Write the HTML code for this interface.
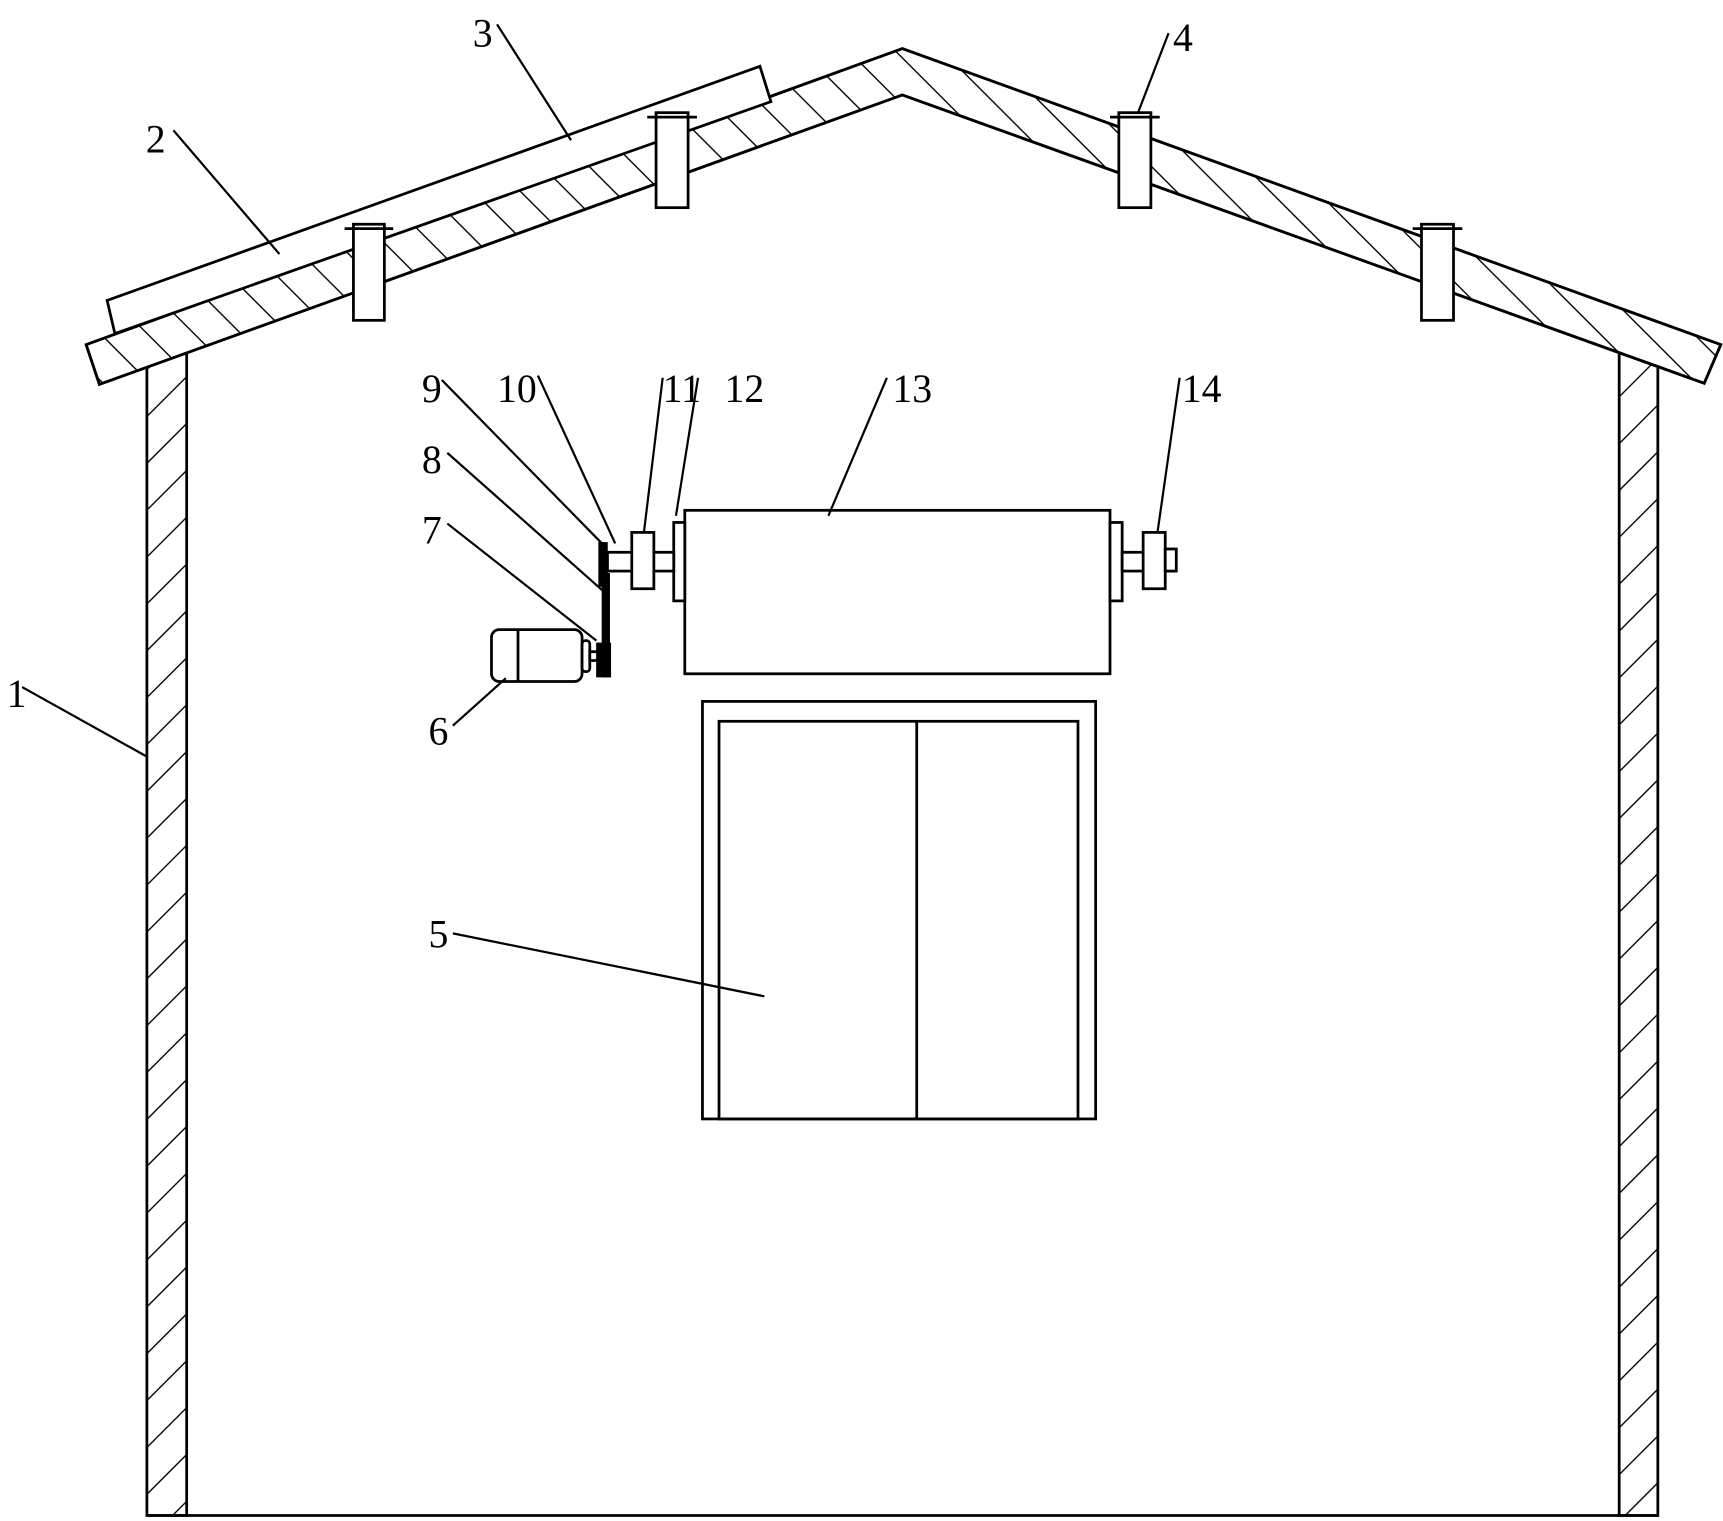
<!DOCTYPE html>
<html><head><meta charset="utf-8"><style>html,body{margin:0;padding:0;background:#fff}svg{display:block}</style></head><body>
<svg width="1723" height="1521" viewBox="0 0 1560 1377" preserveAspectRatio="none" xmlns="http://www.w3.org/2000/svg">
<defs>
<pattern id="hb" patternUnits="userSpaceOnUse" width="30" height="30" patternTransform="rotate(-45)"><line x1="0" y1="0" x2="0" y2="30" stroke="#000" stroke-width="2.5"/></pattern>
<pattern id="hf" patternUnits="userSpaceOnUse" width="30" height="30" patternTransform="rotate(45)"><line x1="0" y1="0" x2="0" y2="30" stroke="#000" stroke-width="2.5"/></pattern>
</defs>
<g stroke="#000" stroke-width="2.5" fill="none">
<!-- walls -->
<rect x="133" y="320" width="36" height="1052" fill="url(#hf)"/>
<rect x="1466" y="320" width="35" height="1052" fill="url(#hf)"/>
<line x1="133" y1="1372" x2="1501" y2="1372"/>
<!-- roof -->
<polygon points="78,312 817,44 1558,312 1543,347 817,86 90,348" fill="#fff"/>
<polygon points="78,312 817,44 1558,312 1543,347 817,86 90,348" fill="url(#hb)"/>
<!-- panel 3 -->
<polygon points="97,272 688,60 698,92 104,302" fill="#fff"/>
<!-- posts -->
<g fill="#fff">
<rect x="320" y="203" width="28" height="87"/><line x1="312" y1="207" x2="356" y2="207"/>
<rect x="594" y="102" width="29" height="86"/><line x1="586" y1="106" x2="631" y2="106"/>
<rect x="1013" y="102" width="29" height="86"/><line x1="1005" y1="106" x2="1050" y2="106"/>
<rect x="1287" y="203" width="29" height="87"/><line x1="1279" y1="207" x2="1324" y2="207"/>
</g>
<!-- roll assembly -->
<rect x="620" y="462" width="385" height="148" fill="#fff"/>
<rect x="610" y="473" width="10" height="71" fill="#fff"/>
<rect x="1005" y="473" width="11" height="71" fill="#fff"/>
<rect x="550" y="500" width="60" height="17" fill="#fff"/>
<rect x="572" y="482" width="20" height="51" fill="#fff"/>
<rect x="1016" y="500" width="48" height="17" fill="#fff"/>
<rect x="1035" y="482" width="20" height="51" fill="#fff"/>
<rect x="1055" y="497" width="10" height="20" fill="#fff"/>
<rect x="543" y="492" width="6" height="38" fill="#000"/>
<rect x="546" y="520" width="5" height="92" fill="#000"/>
<rect x="541" y="583" width="11" height="29" fill="#000"/>
<rect x="445" y="570" width="82" height="47" rx="7" fill="#fff"/>
<line x1="469" y1="570" x2="469" y2="617"/>
<rect x="527" y="580" width="7" height="28" rx="3" fill="#fff"/>
<rect x="534" y="590" width="7" height="8" fill="#fff"/>
<!-- door -->
<rect x="636" y="635" width="356" height="378"/>
<rect x="651" y="653" width="325" height="360"/>
<line x1="830" y1="653" x2="830" y2="1013"/>
<!-- leaders -->
<g stroke-width="2">
<line x1="20" y1="622" x2="133" y2="685"/>
<line x1="157" y1="118" x2="253" y2="230"/>
<line x1="450" y1="22" x2="517" y2="127"/>
<line x1="1058" y1="30" x2="1030" y2="103"/>
<line x1="410" y1="845" x2="692" y2="902"/>
<line x1="410" y1="657" x2="458" y2="614"/>
<line x1="405" y1="474" x2="540" y2="580"/>
<line x1="405" y1="410" x2="546" y2="535"/>
<line x1="400" y1="344" x2="546" y2="493"/>
<line x1="487" y1="340" x2="557" y2="492"/>
<line x1="600" y1="342" x2="583" y2="482"/>
<line x1="632" y1="342" x2="612" y2="467"/>
<line x1="803" y1="342" x2="750" y2="467"/>
<line x1="1068" y1="342" x2="1048" y2="482"/>
</g>
</g>
<g font-family="'Liberation Serif', serif" font-size="36" fill="#000">
<text x="6" y="640">1</text>
<text x="132" y="138">2</text>
<text x="428" y="42">3</text>
<text x="1062" y="46">4</text>
<text x="388" y="858">5</text>
<text x="388" y="674">6</text>
<text x="382" y="492">7</text>
<text x="382" y="428">8</text>
<text x="382" y="364">9</text>
<text x="450" y="364">10</text>
<text x="600" y="364">11</text>
<text x="656" y="364">12</text>
<text x="808" y="364">13</text>
<text x="1070" y="364">14</text>
</g>
</svg>
</body></html>
